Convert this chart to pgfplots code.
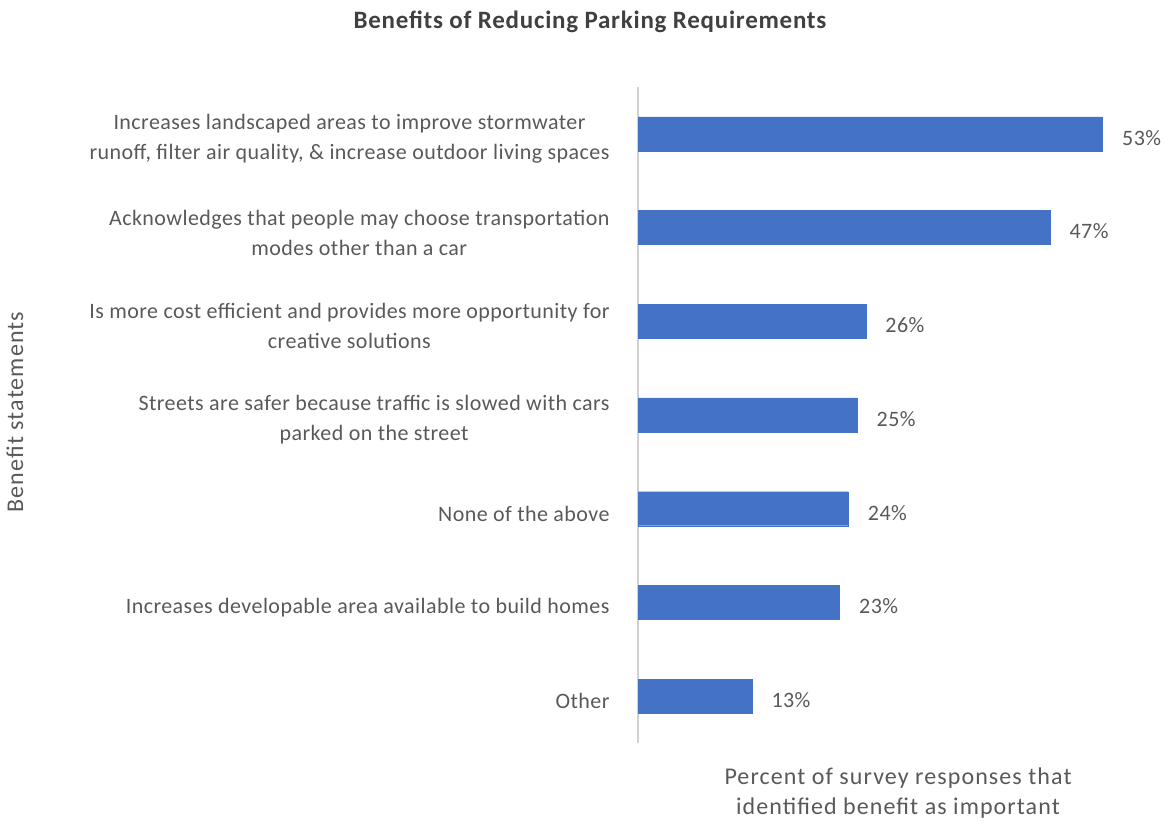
\documentclass[border=0pt]{standalone}
\usepackage{pgfplots}
\pgfplotsset{compat=1.18}
\usepackage{fontspec}
\setmainfont{Carlito}
\newfontfamily\lbl[LetterSpace=2.0]{Carlito}
\newfontfamily\ttl[LetterSpace=3.0]{Carlito}
\newfontfamily\axl[LetterSpace=4.5]{Carlito}
\definecolor{barblue}{HTML}{4472C4}
\definecolor{txt}{HTML}{595959}
\definecolor{ttxt}{HTML}{404040}
\begin{document}
\begin{tikzpicture}[x=1pt,y=1pt]
\path[use as bounding box] (0,0) rectangle (1172,827);
\begin{axis}[
  at={(638pt,84pt)}, anchor=south west,
  scale only axis, width=526pt, height=656pt,
  xbar, bar width=34pt,
  xmin=0, xmax=60, ymin=-0.5, ymax=6.5,
  /pgf/number format/assume math mode=true,
  axis y line*=left, axis x line*=bottom,
  x axis line style={draw=none},
  y axis line style={draw=black!18, line width=1.2pt, -},
  xtick=\empty,
  ytick={0,1,2,3,4,5,6},
  ytick style={draw=none},
  yticklabels={Other,
    Increases developable area available to build homes,
    None of the above,
    {Streets are safer because traffic is slowed with cars\\parked on the street},
    {Is more cost efficient and provides more opportunity for\\creative solutions},
    {Acknowledges that people may choose transportation\\modes other than a car},
    {Increases landscaped areas to improve stormwater\\runoff, filter air quality, \& increase outdoor living spaces}},
  yticklabel style={align=center, inner sep=0pt, xshift=-24pt, yshift=-5pt, text=txt,
    font=\lbl\fontsize{22}{30}\selectfont},
  nodes near coords={\pgfmathprintnumber{\pgfplotspointmeta}\%},
  nodes near coords style={anchor=west, xshift=16pt, yshift=-4pt, text=txt,
    font=\lbl\fontsize{22}{26}\selectfont},
  clip=false,
]
\addplot[fill=barblue, draw=barblue, line width=0.4pt] coordinates {
  (13,0) (23,1) (24,2) (25,3) (26,4) (47,5) (53,6)
};
\end{axis}
\node[font=\ttl\bfseries\fontsize{25}{28}\selectfont, text=ttxt] at (590,805) {Benefits of Reducing Parking Requirements};
\node[rotate=90, font=\axl\fontsize{24}{28}\selectfont, text=txt] at (15,415) {Benefit statements};
\node[align=center, font=\axl\fontsize{24}{30}\selectfont, text=txt] at (898,34) {Percent of survey responses that\\identified benefit as important};
\end{tikzpicture}
\end{document}
